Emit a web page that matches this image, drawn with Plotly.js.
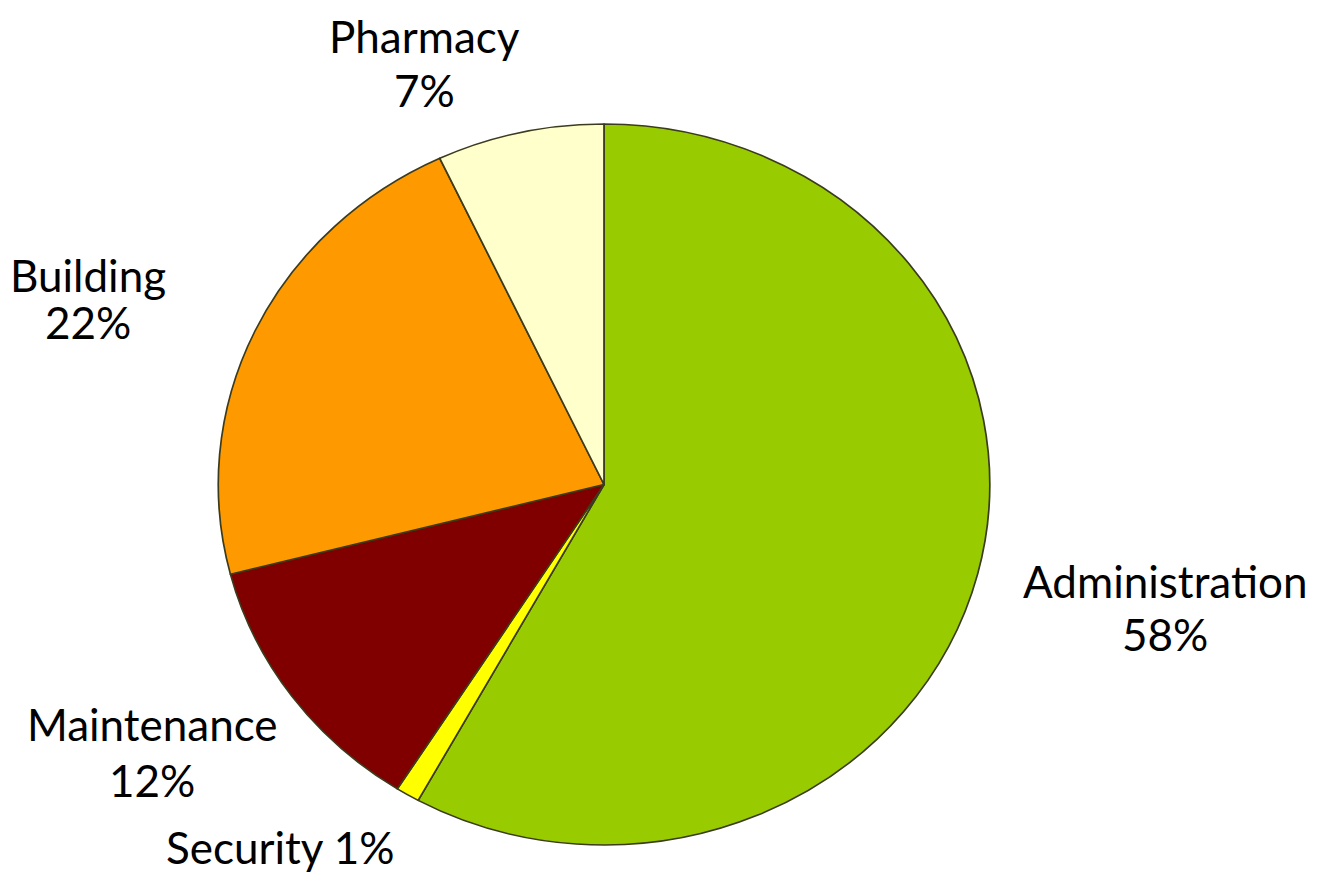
<!DOCTYPE html>
<html>
<head>
<meta charset="utf-8">
<script src="https://cdn.plot.ly/plotly-3.0.1.min.js"></script>
<style>
html,body{margin:0;padding:0;background:#fff;}
#chart{width:1317px;height:876px;}
</style>
</head>
<body>
<div id="chart"></div>
<script>
// ---- data ----
const categories = ["Administration", "Security", "Maintenance", "Building", "Pharmacy"];
const shares = [58, 1, 12, 22, 7];
const sliceColors = ["#99CC00", "#FFFF00", "#800000", "#FF9900", "#FFFFCC"];
// label text layout: 'two' = name and percent on two lines, 'one' = same line
const labelMode = ["two", "one", "two", "two", "two"];

// ---- layout (pixel positions of label lines) ----
const W = 1317, H = 876;
const labelPos = [
  {x: 1165, y1: 581, y2: 634},
  {x: 280, y1: 847, y2: null},
  {x: 152, y1: 724, y2: 780},
  {x: 88, y1: 275, y2: 322},
  {x: 425, y1: 36, y2: 90}
];

const FONT = {family: "Lato, 'Open Sans', sans-serif", size: 44, color: "#000"};
const annotations = [];
categories.forEach((c, i) => {
  const p = labelPos[i];
  const pct = shares[i] + "%";
  if (labelMode[i] === "one") {
    annotations.push({text: c + " " + pct, x: p.x / W, y: 1 - p.y1 / H, xref: "paper", yref: "paper",
      xanchor: "center", yanchor: "middle", showarrow: false, font: FONT});
  } else {
    annotations.push({text: c, x: p.x / W, y: 1 - p.y1 / H, xref: "paper", yref: "paper",
      xanchor: "center", yanchor: "middle", showarrow: false, font: FONT});
    annotations.push({text: pct, x: p.x / W, y: 1 - p.y2 / H, xref: "paper", yref: "paper",
      xanchor: "center", yanchor: "middle", showarrow: false, font: FONT});
  }
});

// pie geometry: center (604, 484.5), vertical radius 360.5
const cx = 604, cy = 484.5, r = 360.5, stretch = 1.07;
const trace = {
  type: "pie",
  labels: categories,
  values: shares,
  sort: false,
  direction: "clockwise",
  rotation: 0,
  textinfo: "none",
  hoverinfo: "label+percent",
  marker: {colors: sliceColors, line: {color: "#3b3b1e", width: 1.6}},
  domain: {x: [(cx - r) / W, (cx + r) / W], y: [1 - (cy + r) / H, 1 - (cy - r) / H]}
};

const layout = {
  width: W, height: H,
  margin: {l: 0, r: 0, t: 0, b: 0},
  paper_bgcolor: "#fff",
  showlegend: false,
  annotations: annotations
};

Plotly.newPlot("chart", [trace], layout, {displayModeBar: false, staticPlot: true}).then(gd => {
  // reference pie is slightly wider than tall: stretch horizontally about its centre
  const t = gd.querySelector(".pielayer .trace");
  if (t) {
    const tr = t.getAttribute("transform") || "";
    t.setAttribute("transform", "translate(" + (-cx * (stretch - 1)) + ",0) scale(" + stretch + ",1) " + tr);
  }
});
</script>
</body>
</html>
